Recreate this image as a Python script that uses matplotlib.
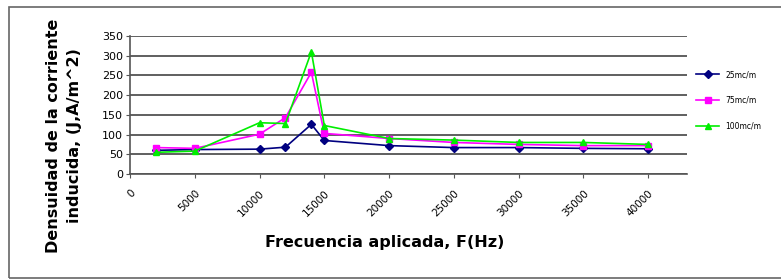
import matplotlib.pyplot as plt
from matplotlib.patches import Rectangle

# frequencies (Hz)
freq = [2000, 5000, 10000, 12000, 14000, 15000, 20000, 25000, 30000, 35000, 40000]

# induced current density for each series
s25 = [60, 62, 63, 68, 126, 85, 72, 67, 67, 65, 64]
s75 = [67, 65, 101, 143, 258, 103, 90, 80, 75, 72, 72]
s100 = [55, 58, 130, 128, 310, 123, 90, 86, 80, 80, 75]

labels = ['25mc/m', '75mc/m', '100mc/m']
xticks = list(range(0, 40001, 5000))
yticks = list(range(0, 351, 50))

fig = plt.figure(figsize=(7.81, 2.8), dpi=100)
ax = fig.add_axes([0.1665, 0.3786, 0.7131, 0.4928])

ax.plot(freq, s25, color='#000080', marker='D', markersize=4, lw=1.2, label=labels[0])
ax.plot(freq, s75, color='#ff00ff', marker='s', markersize=4, lw=1.2, label=labels[1])
ax.plot(freq, s100, color='#00ee00', marker='^', markersize=5, lw=1.2, label=labels[2])

ax.set_xlim(0, 43000)
ax.set_ylim(0, 350)
ax.set_xticks(xticks)
ax.set_xticklabels([str(t) for t in xticks], rotation=45, ha='right', rotation_mode='anchor', fontsize=7.5)
ax.set_yticks(yticks)
ax.set_yticklabels([str(t) for t in yticks], fontsize=8)
ax.yaxis.grid(True, color='#444444', lw=1.2)
ax.set_axisbelow(True)
for side in ['top', 'right']:
    ax.spines[side].set_visible(False)
ax.spines['left'].set_color('#555555')
ax.spines['bottom'].set_color('#555555')
ax.spines['left'].set_linewidth(1.2)
ax.spines['bottom'].set_linewidth(1.2)
ax.tick_params(length=3, color='#555555', pad=2)
ax.tick_params(axis='x', pad=7)

ax.set_xlabel('Frecuencia aplicada, F(Hz)', fontsize=11.5, fontweight='bold')
ax.xaxis.set_label_coords(0.458, -0.44)
ax.set_ylabel('Densuidad de la corriente\ninducida, (J,A/m^2)', fontsize=11.5, fontweight='bold',
              linespacing=1.5)
ax.yaxis.set_label_coords(-0.086, 0.275)

ax.legend(loc='upper left', bbox_to_anchor=(1.0, 0.82), frameon=False, fontsize=5.5,
          handlelength=3, labelspacing=2.2, borderaxespad=0.8)

fig.patches.append(Rectangle((9 / 781, 2 / 280), 790 / 781, 271 / 280, transform=fig.transFigure,
                             fill=False, edgecolor='#666666', lw=1.2))

fig.savefig('out.png', dpi=100)
